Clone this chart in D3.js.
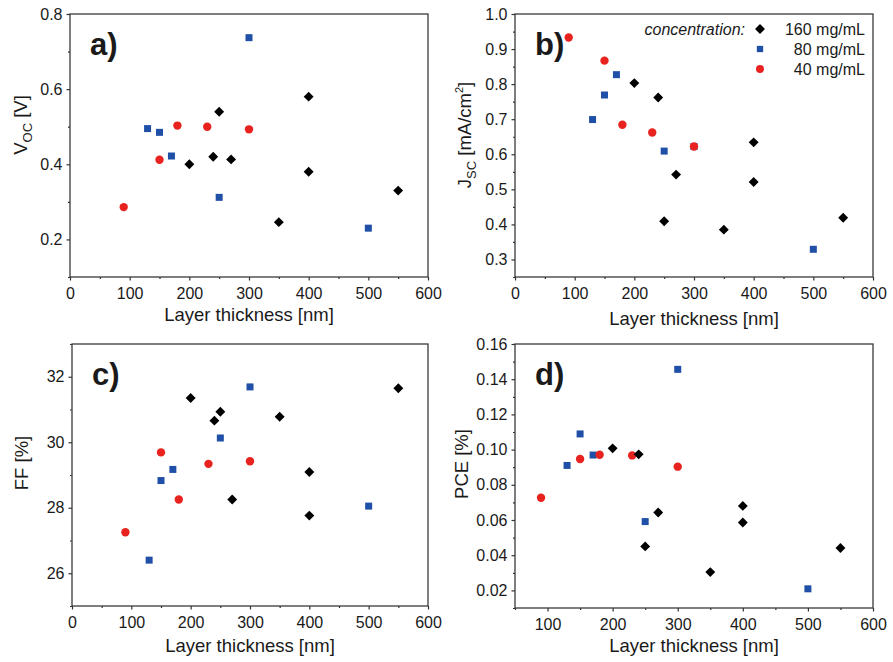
<!DOCTYPE html>
<html>
<head>
<title>Layer thickness</title>
<style>
  body, html { margin: 0; padding: 0; background: #fff; }
  svg text { font-family: "Liberation Sans", Arial, sans-serif; fill: #1a1a1a; }
</style>
</head>
<body>
<svg id="svg" width="893" height="662"></svg>
<script src="https://d3js.org/d3.v7.min.js"></script>
<script>
// thickness values (nm) for each concentration
const thick160 = [200, 240, 250, 270, 350, 400, 400, 550]
const thick80 = [130, 150, 170, 250, 300, 500]
const thick40 = [90, 150, 180, 230, 300]

const vocBlack = [0.40, 0.42, 0.54, 0.413, 0.246, 0.58, 0.38, 0.33]
const vocBlue = [0.495, 0.485, 0.422, 0.312, 0.737, 0.23]
const vocRed = [0.286, 0.412, 0.503, 0.50, 0.493]

const jscBlack = [0.803, 0.762, 0.409, 0.542, 0.385, 0.634, 0.521, 0.419]
const jscBlue = [0.699, 0.769, 0.827, 0.609, 0.622, 0.329]
const jscRed = [0.933, 0.867, 0.684, 0.662, 0.622]

const ffBlack = [31.35, 30.66, 30.93, 28.25, 30.78, 29.09, 27.76, 31.65]
const ffBlue = [26.40, 28.83, 29.17, 30.13, 31.69, 28.05]
const ffRed = [27.25, 29.69, 28.25, 29.34, 29.42]

const pceBlack = [0.1007, 0.0973, 0.045, 0.0643, 0.0304, 0.068, 0.0586, 0.0441]
const pceBlue = [0.091, 0.1089, 0.0969, 0.0591, 0.1456, 0.0209]
const pceRed = [0.0726, 0.0947, 0.0971, 0.0967, 0.0903]

const legendLabels = ['160 mg/mL', '80 mg/mL', '40 mg/mL']
const xTicksFull = [0, 100, 200, 300, 400, 500, 600]
const xTicksD = [100, 200, 300, 400, 500, 600]
const vocTicks = [0.2, 0.4, 0.6, 0.8]
const jscTicks = [0.3, 0.4, 0.5, 0.6, 0.7, 0.8, 0.9, 1.0]
const ffTicks = [26, 28, 30, 32]
const pceTicks = [0.02, 0.04, 0.06, 0.08, 0.10, 0.12, 0.14, 0.16]

const colBlack = '#000000'
const colBlue = '#1f4fa6'
const colRed = '#e8231f'
const svg = d3.select('#svg')

const panels = [
  { tag: 'a)', box: [70, 14, 428, 277], xdom: [0, 600], xt: xTicksFull, ydom: [0.1, 0.8], yt: vocTicks, fmt: d3.format('.1f'),
    ylab: ['V', 'OC', ' [V]', ''], ylx: 27, yly: 125, xly: 44, black: vocBlack, blue: vocBlue, red: vocRed },
  { tag: 'b)', box: [515, 14, 873, 277], xdom: [0, 600], xt: xTicksFull, ydom: [0.25, 1.0], yt: jscTicks, fmt: d3.format('.1f'),
    ylab: ['J', 'SC', ' [mA/cm', '2', ']'], ylx: 471, yly: 135, xly: 48, black: jscBlack, blue: jscBlue, red: jscRed },
  { tag: 'c)', box: [72, 344, 428, 606], xdom: [0, 600], xt: xTicksFull, ydom: [25, 33], yt: ffTicks, fmt: d3.format('d'),
    ylab: ['FF [%]'], ylx: 28, yly: 463, xly: 46, black: ffBlack, blue: ffBlue, red: ffRed },
  { tag: 'd)', box: [515, 344, 873, 608], xdom: [50, 600], xt: xTicksD, ydom: [0.01, 0.16], yt: pceTicks, fmt: d3.format('.2f'),
    ylab: ['PCE [%]'], ylx: 468, yly: 464, xly: 44, black: pceBlack, blue: pceBlue, red: pceRed }
]

function drawPanel(p) {
  const [x0, y0, x1, y1] = p.box
  const x = d3.scaleLinear().domain(p.xdom).range([x0, x1])
  const y = d3.scaleLinear().domain(p.ydom).range([y1, y0])
  const g = svg.append('g')

  // minor ticks
  const xStep = p.xt[1] - p.xt[0], yStep = p.yt[1] - p.yt[0]
  const xMinor = d3.range(p.xdom[0], p.xdom[1] + 1e-9, xStep / 2).filter(v => !p.xt.some(t => Math.abs(t - v) < 1e-9))
  const yMinor = d3.range(p.yt[0] - yStep / 2, p.ydom[1] + 1e-9, yStep / 2).filter(v => v >= p.ydom[0] - 1e-9 && !p.yt.some(t => Math.abs(t - v) < 1e-9))

  g.append('g').attr('transform', `translate(0,${y1})`)
    .call(d3.axisBottom(x).tickValues(xMinor).tickSize(2).tickFormat(''))
  g.append('g').attr('transform', `translate(${x0},0)`)
    .call(d3.axisLeft(y).tickValues(yMinor).tickSize(2).tickFormat(''))

  g.append('g').attr('class', 'xaxis').attr('transform', `translate(0,${y1})`)
    .call(d3.axisBottom(x).tickValues(p.xt).tickSize(3.5).tickPadding(7).tickFormat(d3.format('d')))
  g.append('g').attr('class', 'yaxis').attr('transform', `translate(${x0},0)`)
    .call(d3.axisLeft(y).tickValues(p.yt).tickSize(3.5).tickPadding(4).tickFormat(p.fmt))

  g.selectAll('.domain').remove()
  g.selectAll('.tick line').attr('stroke', '#333').attr('stroke-width', 1.2)
  g.selectAll('.tick text').attr('font-size', 16).attr('fill', '#1a1a1a')
    .style('font-family', '"Liberation Sans", Arial, sans-serif')

  g.append('rect').attr('x', x0).attr('y', y0).attr('width', x1 - x0).attr('height', y1 - y0)
    .attr('fill', 'none').attr('stroke', '#3a3a3a').attr('stroke-width', 1.3)

  // x title
  g.append('text').attr('x', (x0 + x1) / 2).attr('y', y1 + p.xly).attr('text-anchor', 'middle')
    .attr('font-size', 18.5).text('Layer thickness [nm]')

  // y title
  const yt = g.append('text').attr('text-anchor', 'middle').attr('font-size', 18.5)
    .attr('transform', `translate(${p.ylx},${p.yly}) rotate(-90)`)
  if (p.ylab.length === 1) {
    yt.text(p.ylab[0])
  } else {
    yt.append('tspan').text(p.ylab[0])
    yt.append('tspan').attr('font-size', 13).attr('dy', 5).text(p.ylab[1])
    yt.append('tspan').attr('dy', -5).text(p.ylab[2])
    if (p.ylab[3]) {
      yt.append('tspan').attr('font-size', 11).attr('dy', -8).text(p.ylab[3])
      yt.append('tspan').attr('dy', 8).text(p.ylab[4])
    }
  }

  g.append('text').attr('x', x0 + 20).attr('y', y0 + 41).attr('font-size', 31)
    .attr('font-weight', 'bold').text(p.tag)

  const sq = d3.symbol().type(d3.symbolSquare).size(49)
  const circ = d3.symbol().type(d3.symbolCircle).size(Math.PI * 4.2 * 4.2)

  g.append('g').selectAll('path').data(d3.zip(thick80, p.blue)).join('path')
    .attr('d', sq).attr('fill', colBlue)
    .attr('transform', d => `translate(${x(d[0])},${y(d[1])})`)
  g.append('g').selectAll('path').data(d3.zip(thick40, p.red)).join('path')
    .attr('d', circ).attr('fill', colRed)
    .attr('transform', d => `translate(${x(d[0])},${y(d[1])})`)
  g.append('g').selectAll('path').data(d3.zip(thick160, p.black)).join('path')
    .attr('d', sq).attr('fill', colBlack)
    .attr('transform', d => `translate(${x(d[0])},${y(d[1])}) rotate(45)`)
}

panels.forEach(drawPanel)

// legend
const leg = svg.append('g')
leg.append('text').attr('x', 745).attr('y', 35).attr('text-anchor', 'end')
  .attr('font-size', 16).attr('font-style', 'italic').text('concentration:')
const legSym = [
  d3.symbol().type(d3.symbolSquare).size(49),
  d3.symbol().type(d3.symbolSquare).size(40),
  d3.symbol().type(d3.symbolCircle).size(Math.PI * 4 * 4)
]
const legCol = [colBlack, colBlue, colRed]
legendLabels.forEach((lab, i) => {
  const cy = 29 + i * 20
  leg.append('path').attr('d', legSym[i]).attr('fill', legCol[i])
    .attr('transform', `translate(760,${cy})` + (i === 0 ? ' rotate(45)' : ''))
  leg.append('text').attr('x', 865).attr('y', cy + 6).attr('text-anchor', 'end')
    .attr('font-size', 16).text(lab)
})
</script>
</body>
</html>
